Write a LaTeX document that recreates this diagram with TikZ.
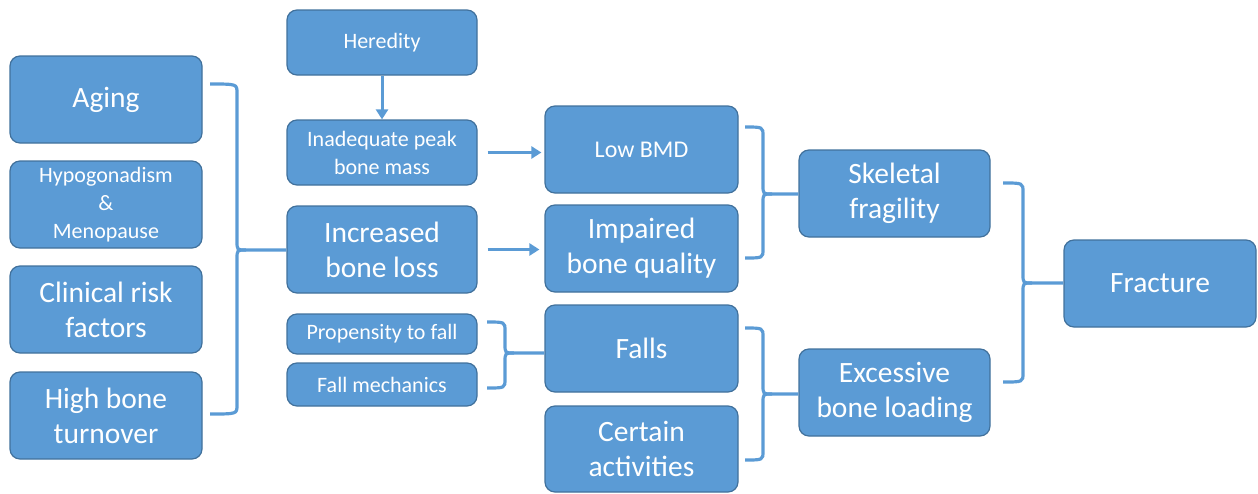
\documentclass[tikz,border=0pt]{standalone}
\usepackage{fontspec}
\setmainfont{Carlito}
\usetikzlibrary{arrows.meta}
\definecolor{boxfill}{HTML}{5B9BD5}
\definecolor{boxline}{HTML}{41719C}
\tikzset{
  box/.style={draw=boxline, line width=1.2pt, fill=boxfill, rounded corners=10pt, text=white, align=center, inner sep=0pt},
  big/.style={box, font=\fontsize{29.5}{35}\selectfont},
  small/.style={box, font=\fontsize{22}{28}\selectfont},
  bracket/.style={draw=boxfill, line width=3.2pt},
  arr/.style={draw=boxfill, line width=3pt, -{Triangle[length=10pt,width=12pt]}},
}
\newcommand\placebox[6]{\node[#1, minimum width=#4-#3, minimum height=#6-#5] (#2) at ({(#3+#4)/2},{(#5+#6)/2})}
% x1, xv, ytop, ymid, ybottom, target
\newcommand\brc[6]{%
  \draw[bracket] (#1,#3) .. controls (#2,#3) .. (#2,#3+9) -- (#2,#4-9)
     .. controls (#2,#4) .. (#2+9,#4) -- (#6.west |- #2,#4);
  \draw[bracket] (#2+9,#4) .. controls (#2,#4) .. (#2,#4+9) -- (#2,#5-9)
     .. controls (#2,#5) .. (#1,#5);}
\begin{document}
\begin{tikzpicture}[x=1pt,y=-1pt]
\useasboundingbox (0,0) rectangle (1258,493);
\placebox{big}{aging}{10}{202}{56}{143}{Aging};
\placebox{small}{hypo}{10}{202}{161}{248}{Hypogonadism\\\&\\Menopause};
\placebox{big}{clin}{10}{202}{266}{353}{Clinical risk\\factors};
\placebox{big}{turn}{10}{202}{372}{459}{High bone\\turnover};
\placebox{small}{here}{287}{477}{10}{75}{Heredity};
\placebox{small}{peak}{287}{477}{120}{185}{Inadequate peak\\bone mass};
\placebox{big}{loss}{287}{477}{206}{293}{Increased\\bone loss};
\placebox{small}{prop}{287}{477}{314}{354}{Propensity to fall};
\placebox{small}{mech}{287}{477}{363}{406}{Fall mechanics};
\placebox{small}{bmd}{545}{738}{106}{193}{\fontsize{24}{30}\selectfont Low BMD};
\placebox{big}{qual}{545}{738}{205}{292}{Impaired\\bone quality};
\placebox{big}{falls}{545}{738}{305}{392}{Falls};
\placebox{big}{act}{545}{738}{406}{492}{Certain\\activities};
\placebox{big}{skel}{799}{990}{150}{237}{Skeletal\\fragility};
\placebox{big}{exc}{799}{990}{349}{436}{Excessive\\bone loading};
\placebox{big}{frac}{1064}{1256}{240}{327}{Fracture};
\brc{210}{237}{84}{250}{414}{loss}
\brc{487}{505}{322}{353}{388}{falls}
\brc{745}{763}{127}{194}{258}{skel}
\brc{745}{763}{328}{394}{460}{exc}
\brc{1003}{1023}{183}{283}{382}{frac}
\draw[arr] (here) -- (peak);
\draw[arr, shorten <=10pt, shorten >=3pt] (peak.east) -- (bmd.west |- peak.east);
\draw[arr, shorten <=10pt, shorten >=5pt] (loss.east) -- (qual.west |- loss.east);
\end{tikzpicture}
\end{document}
